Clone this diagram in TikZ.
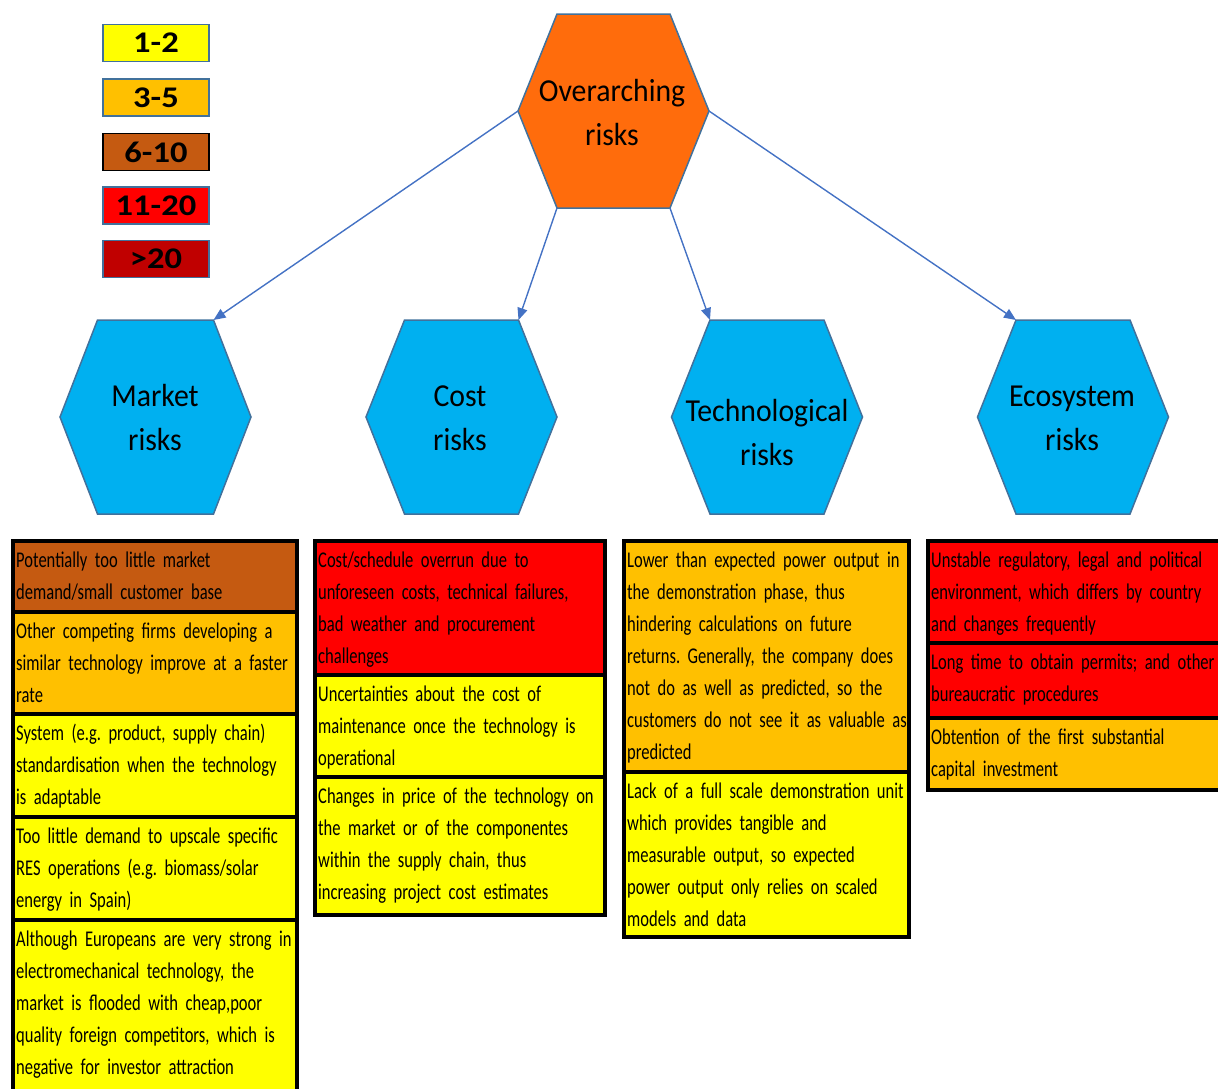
\documentclass[tikz,border=0pt]{standalone}
\usepackage{fontspec}
\setmainfont{Carlito}
\newfontfamily\narrowfont[FakeStretch=0.735]{Carlito}
\newfontfamily\hexfont[FakeStretch=0.93]{Carlito}
\newfontfamily\legendfont[FakeStretch=1.15]{Carlito}
\usetikzlibrary{arrows.meta}
\frenchspacing

\definecolor{rkyellow}{HTML}{FFFF00}
\definecolor{rkorange}{HTML}{FFC000}
\definecolor{rkbrown}{HTML}{C55A11}
\definecolor{rkred}{HTML}{FF0000}
\definecolor{rkdarkred}{HTML}{C00000}
\definecolor{hexblue}{HTML}{00B0F0}
\definecolor{hexorange}{HTML}{FF6C0C}
\definecolor{edgeblue}{HTML}{41719C}
\definecolor{arrowblue}{HTML}{4472C4}

% flat-topped hexagon: name, cx, cy, half width, half top edge, half height, fill
\newcommand\riskhex[7]{%
  \coordinate (#1-tl) at (#2-#5,#3-#6);
  \coordinate (#1-tr) at (#2+#5,#3-#6);
  \coordinate (#1-r)  at (#2+#4,#3);
  \coordinate (#1-br) at (#2+#5,#3+#6);
  \coordinate (#1-bl) at (#2-#5,#3+#6);
  \coordinate (#1-l)  at (#2-#4,#3);
  \draw[hexline, fill=#7] (#1-tl) -- (#1-tr) -- (#1-r) -- (#1-br) -- (#1-bl) -- (#1-l) -- cycle;
}

% coloured risk box: name, left, top, right, bottom, fill, text
\newcommand\riskbox[7]{%
  \draw[boxline, fill=#6] (#2,#3) rectangle (#4,#5);
  \node[boxtext, anchor=base west] (#1) at (#2+3,#3+26.5) {#7};
}

\begin{document}
\begin{tikzpicture}[x=1pt, y=-1pt,
  hexline/.style={draw=edgeblue, line width=1.5pt, line join=miter},
  hextext/.style={text width=200pt, align=center, inner sep=0pt,
    font=\hexfont\fontsize{32}{44}\selectfont},
  boxline/.style={draw=black, line width=4pt},
  boxtext/.style={text width=300pt, align=left, inner sep=0pt,
    font=\narrowfont\frenchspacing\fontsize{22.5}{32}\selectfont},
  legbox/.style={draw=edgeblue, line width=1.5pt, minimum width=106pt,
    minimum height=37pt, inner sep=0pt, font=\legendfont\bfseries\fontsize{30}{30}\selectfont},
  link/.style={draw=arrowblue, line width=1.4pt, -{Triangle[length=12pt,width=10pt]}}
]
\useasboundingbox (0,0) rectangle (1218,1088);

% legend
\node[legbox, fill=rkyellow]  (leg1) at (156,43)    {1-2};
\node[legbox, fill=rkorange]  (leg2) at (156,97.5)  {3-5};
\node[legbox, fill=rkbrown, draw=black] (leg3) at (156,152) {6-10};
\node[legbox, fill=rkred]     (leg4) at (156,205.5) {11-20};
\node[legbox, fill=rkdarkred] (leg5) at (156,259)   {>20};

% hexagons
\riskhex{ho}{613.5}{111}{95.5}{56.5}{97}{hexorange}
\riskhex{hm}{155.5}{417}{95.5}{58}{97}{hexblue}
\riskhex{hc}{461.5}{417}{95.5}{57}{97}{hexblue}
\riskhex{ht}{767}{417}{95.5}{57}{97}{hexblue}
\riskhex{he}{1073}{417}{95.5}{57}{97}{hexblue}

\node[hextext, anchor=base] (over) at (612,101) {Overarching\\risks};
\node[hextext, anchor=base] (market) at (155,406) {Market\\risks};
\node[hextext, anchor=base] (cost) at (460,406) {Cost\\risks};
\node[hextext, anchor=base] (tech) at (767,421) {Technological\\risks};
\node[hextext, anchor=base] (eco) at (1072,406) {Ecosystem\\risks};

% connectors
\draw[link] (ho-l) -- (hm-tr);
\draw[link] (ho-bl) -- (hc-tr);
\draw[link] (ho-br) -- (ht-tl);
\draw[link] (ho-r) -- (he-tl);

% market risks
\riskbox{m1}{13}{541}{297}{612}{rkbrown}{Potentially too little market\\demand/small customer base}
\riskbox{m2}{13}{612}{297}{714}{rkorange}{Other competing firms developing a\\similar technology improve at a faster\\rate}
\riskbox{m3}{13}{714}{297}{817}{rkyellow}{System (e.g. product, supply chain)\\standardisation when the technology\\is adaptable}
\riskbox{m4}{13}{817}{297}{920}{rkyellow}{Too little demand to upscale specific\\RES operations (e.g. biomass/solar\\energy in Spain)}
\riskbox{m5}{13}{920}{297}{1100}{rkyellow}{Although Europeans are very strong in\\electromechanical technology, the\\market is flooded with cheap,poor\\quality foreign competitors, which is\\negative for investor attraction}

% cost risks
\riskbox{c1}{315}{541}{605}{675}{rkred}{Cost/schedule overrun due to\\unforeseen costs, technical failures,\\bad weather and procurement\\challenges}
\riskbox{c2}{315}{675}{605}{777}{rkyellow}{Uncertainties about the cost of\\maintenance once the technology is\\operational}
\riskbox{c3}{315}{777}{605}{915}{rkyellow}{Changes in price of the technology on\\the market or of the componentes\\within the supply chain, thus\\increasing project cost estimates}

% technological risks
\riskbox{t1}{624}{541}{909}{772}{rkorange}{Lower than expected power output in\\the demonstration phase, thus\\hindering calculations on future\\returns. Generally, the company does\\not do as well as predicted, so the\\customers do not see it as valuable as\\predicted}
\riskbox{t2}{624}{772}{909}{937}{rkyellow}{Lack of a full scale demonstration unit\\which provides tangible and\\measurable output, so expected\\power output only relies on scaled\\models and data}

% ecosystem risks
\riskbox{e1}{928}{541}{1224}{643}{rkred}{Unstable regulatory, legal and political\\environment, which differs by country\\and changes frequently}
\riskbox{e2}{928}{643}{1224}{718}{rkred}{Long time to obtain permits; and other\\bureaucratic procedures}
\riskbox{e3}{928}{718}{1224}{790}{rkorange}{Obtention of the first substantial\\capital investment}
\end{tikzpicture}
\end{document}
